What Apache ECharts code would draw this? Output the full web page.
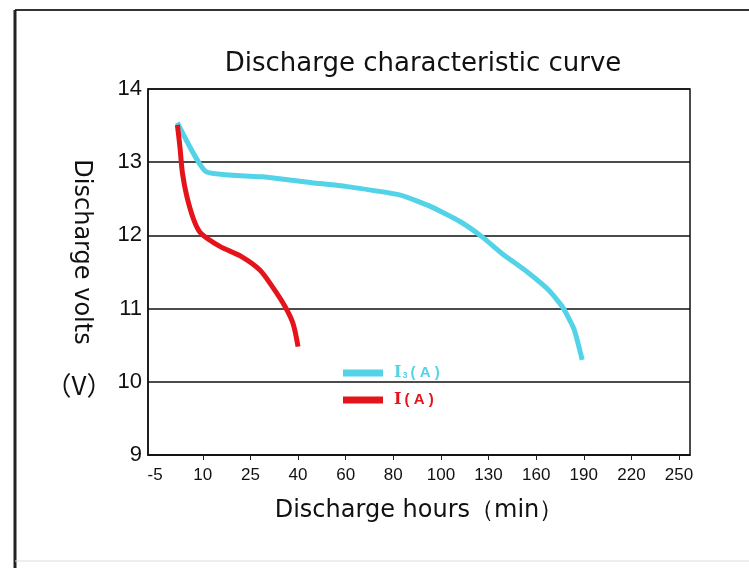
<!DOCTYPE html>
<html><head><meta charset="utf-8">
<script src="https://cdn.jsdelivr.net/npm/echarts@6/dist/echarts.min.js"></script>
<style>html,body{margin:0;padding:0;background:#fff}#c{width:749px;height:568px}</style>
</head><body><div id="c"></div>
<script>
// Tick labels of the (evenly spaced) x axis, in minutes
const xTickLabels = [-5, 10, 25, 40, 60, 80, 100, 130, 160, 190, 220, 250];
// I3(A) discharge curve: minutes / volts
const i3Minutes = [2, 11, 29, 46, 60, 83, 96, 112, 126, 138, 155, 168, 177, 184, 189];
const i3Volts   = [13.54, 12.87, 12.80, 12.72, 12.67, 12.55, 12.39, 12.19, 11.98, 11.76, 11.49, 11.25, 11.01, 10.71, 10.30];
// I(A) discharge curve: minutes / volts
const iMinutes = [2, 2.8, 3.6, 5, 7.2, 9.4, 15.4, 22.2, 27.9, 31.9, 35.9, 38.4, 40];
const iVolts   = [13.51, 13.21, 12.85, 12.53, 12.21, 12.03, 11.85, 11.71, 11.53, 11.30, 11.03, 10.80, 10.48];

// piecewise scale: minutes -> position on the evenly spaced tick axis
function toPos(m) {
  const L = xTickLabels;
  for (let i = 0; i < L.length - 1; i++) {
    if (m <= L[i + 1]) return i + (m - L[i]) / (L[i + 1] - L[i]);
  }
  return L.length - 1;
}
const tickIdx = xTickLabels.map((_, i) => i);

const chart = echarts.init(document.getElementById('c'));
const cyan = '#52d3e8', red = '#e5141b';
chart.setOption({
  animation: false,
  backgroundColor: '#fff',
  title: {
    text: 'Discharge characteristic curve',
    left: 418, top: 46, textAlign: 'center',
    textStyle: { fontFamily: 'DejaVu Sans', fontSize: 26, fontWeight: 'normal', color: '#111' }
  },
  grid: { left: 148, right: 59, top: 89, bottom: 113, show: true, borderColor: '#111', borderWidth: 1.5, containLabel: false },
  legend: {
    left: 338, top: 360, orient: 'vertical', itemGap: 11,
    icon: 'rect', itemWidth: 40, itemHeight: 7,
    data: [
      { name: 'I3', textStyle: { color: cyan } },
      { name: 'I', textStyle: { color: red } }
    ],
    formatter: n => n === 'I3' ? '{i|I}{s|3}{p|( A )}' : '{i|I}{p|( A )}',
    textStyle: {
      fontFamily: 'Liberation Sans', fontSize: 15, fontWeight: 'bold', padding: [0, 0, 0, 6],
      rich: {
        i: { fontFamily: 'DejaVu Serif', fontSize: 16, fontWeight: 'bold' },
        s: { fontSize: 9, fontWeight: 'bold', padding: [6, 0, 0, 1] },
        p: { fontSize: 15, fontWeight: 'bold', padding: [0, 0, 0, 3] }
      }
    }
  },
  xAxis: {
    type: 'value', min: -0.15, max: 11.23,
    name: 'Discharge hours（min）', nameLocation: 'middle', nameGap: 44,
    nameTextStyle: { fontFamily: 'DejaVu Sans', fontSize: 24, color: '#111' },
    axisLine: { show: true, onZero: false, lineStyle: { color: '#111', width: 1.5 } },
    axisTick: { show: true, customValues: tickIdx.slice(1), length: 5, lineStyle: { color: '#222' } },
    axisLabel: {
      customValues: tickIdx, margin: 12,
      formatter: v => String(xTickLabels[Math.round(v)]),
      fontFamily: 'Liberation Sans', fontSize: 17, color: '#111'
    },
    splitLine: { show: false }
  },
  yAxis: {
    type: 'value', min: 9, max: 14, interval: 1,
    axisLine: { show: true, onZero: false, lineStyle: { color: '#111', width: 1.5 } },
    axisTick: { show: false },
    axisLabel: { fontFamily: 'Liberation Sans', fontSize: 22, color: '#111', margin: 6 },
    splitLine: { show: true, lineStyle: { color: '#111', width: 1.5 } }
  },
  graphic: [
    { type: 'line', shape: { x1: 15, y1: 10, x2: 749, y2: 10 }, style: { stroke: '#333', lineWidth: 2 } },
    { type: 'line', shape: { x1: 15, y1: 10, x2: 15, y2: 568 }, style: { stroke: '#222', lineWidth: 3 } },
    { type: 'line', shape: { x1: 15, y1: 561, x2: 749, y2: 561 }, style: { stroke: '#ddd', lineWidth: 1 } },
    { type: 'text', x: 81, y: 252, rotation: -Math.PI / 2,
      style: { text: 'Discharge volts', fontFamily: 'DejaVu Sans', fontSize: 24, fill: '#111', align: 'center', verticalAlign: 'middle' } },
    { type: 'text', x: 79, y: 385,
      style: { text: '（V）', fontFamily: 'Noto Sans CJK SC', fontSize: 26, fill: '#111', align: 'center', verticalAlign: 'middle' } }
  ],
  series: [
    {
      name: 'I3', type: 'line', color: cyan, showSymbol: false, symbol: 'none',
      smooth: 0.15,
      lineStyle: { color: cyan, width: 5 }, itemStyle: { color: cyan },
      data: i3Minutes.map((m, k) => [toPos(m), i3Volts[k]])
    },
    {
      name: 'I', type: 'line', color: red, showSymbol: false, symbol: 'none',
      smooth: 0.3,
      lineStyle: { color: red, width: 5 }, itemStyle: { color: red },
      data: iMinutes.map((m, k) => [toPos(m), iVolts[k]])
    }
  ]
});
</script>
</body></html>
